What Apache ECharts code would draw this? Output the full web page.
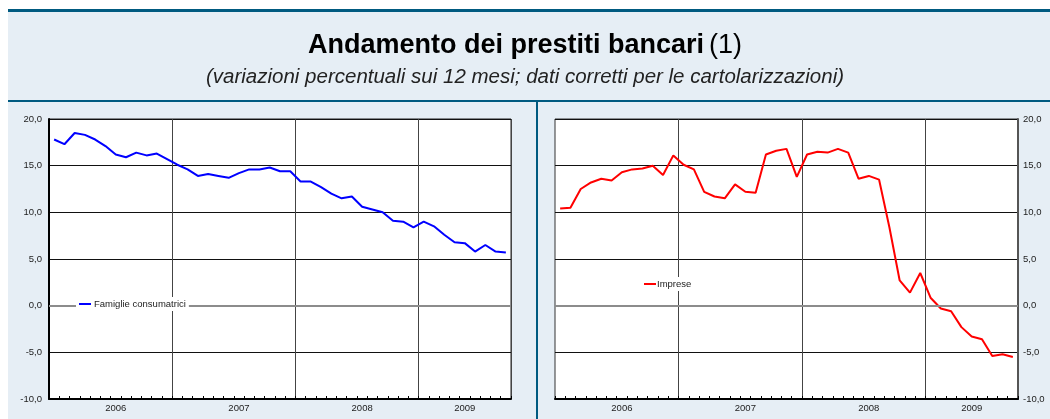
<!DOCTYPE html>
<html>
<head>
<meta charset="utf-8">
<script src="https://cdn.jsdelivr.net/npm/echarts@6/dist/echarts.min.js"></script>
<style>
  html, body { margin: 0; padding: 0; background: #fff; }
  #main { width: 1050px; height: 419px; }
</style>
</head>
<body>
<div id="main"></div>
<script>
// monthly data, Jan 2006 - Sep 2009
var years = ['2006', '2007', '2008', '2009'];
var monthsPerYear = [12, 12, 12, 9];
var yearLabelIndex = [6, 18, 30, 40];

var famiglie = [17.8, 17.3, 18.5, 18.3, 17.8, 17.1, 16.2, 15.9, 16.4, 16.1, 16.3, 15.7,
  15.1, 14.6, 13.9, 14.1, 13.9, 13.7, 14.2, 14.6, 14.6, 14.8, 14.4, 14.4,
  13.3, 13.3, 12.7, 12.0, 11.5, 11.7, 10.6, 10.3, 10.0, 9.1, 9.0, 8.4,
  9.0, 8.5, 7.6, 6.8, 6.7, 5.8, 6.5, 5.8, 5.7];

var imprese = [10.4, 10.5, 12.5, 13.2, 13.6, 13.4, 14.3, 14.6, 14.7, 15.0, 14.0, 16.1,
  15.1, 14.6, 12.2, 11.7, 11.5, 13.0, 12.2, 12.1, 16.2, 16.6, 16.8, 13.8,
  16.2, 16.5, 16.4, 16.8, 16.4, 13.6, 13.9, 13.5, 8.4, 2.7, 1.4, 3.5,
  0.85, -0.3, -0.6, -2.3, -3.3, -3.6, -5.4, -5.2, -5.5];

var months = [];
years.forEach(function (y, k) {
  for (var m = 1; m <= monthsPerYear[k]; m++) {
    months.push(y + '-' + (m < 10 ? '0' + m : m));
  }
});

var small = { fontFamily: 'Liberation Sans', fontSize: 9.5, color: '#222' };

function xAxisFor(gridIndex) {
  return {
    type: 'category',
    gridIndex: gridIndex,
    data: months,
    boundaryGap: true,
    axisLine: { onZero: false, lineStyle: { color: '#000', width: 2 } },
    axisTick: { show: true, interval: 0, inside: true, length: 3, lineStyle: { color: '#000', width: 1 } },
    axisLabel: {
      interval: function (i) { return yearLabelIndex.indexOf(i) >= 0; },
      formatter: function (v) { return v.substr(0, 4); },
      margin: 4,
      fontFamily: small.fontFamily, fontSize: small.fontSize, color: small.color
    },
    splitLine: {
      show: true,
      interval: function (i) { return i > 0 && i % 12 === 0; },
      lineStyle: { color: '#444', width: 1 }
    }
  };
}

function yAxisFor(gridIndex, pos) {
  return {
    type: 'value',
    gridIndex: gridIndex,
    position: pos,
    min: -10, max: 20, interval: 5,
    axisLine: { show: true, onZero: false, lineStyle: { color: pos === 'left' ? '#000' : '#555', width: 2 } },
    axisTick: { show: false },
    axisLabel: {
      margin: pos === 'left' ? 7 : 5,
      formatter: function (v) { return v.toFixed(1).replace('.', ','); },
      fontFamily: small.fontFamily, fontSize: small.fontSize, color: small.color
    },
    splitLine: { show: true, lineStyle: { color: '#111', width: 1 } }
  };
}

function zeroLine() {
  return {
    silent: true,
    symbol: 'none',
    label: { show: false },
    lineStyle: { color: '#8c8c8c', width: 2, type: 'solid' },
    data: [{ yAxis: 0 }]
  };
}

var chart = echarts.init(document.getElementById('main'));

chart.setOption({
  animation: false,
  graphic: [
    { type: 'rect', z: -10, shape: { x: 8, y: 12, width: 1042, height: 407 }, style: { fill: '#e6eef5' } },
    { type: 'rect', z: -9, shape: { x: 8, y: 9, width: 1042, height: 3 }, style: { fill: '#005a80' } },
    { type: 'rect', z: -9, shape: { x: 8, y: 100, width: 1042, height: 2 }, style: { fill: '#005a80' } },
    { type: 'rect', z: -9, shape: { x: 536, y: 100, width: 2, height: 319 }, style: { fill: '#005a80' } }
  ],
  title: [
    {
      text: '{b|Andamento dei prestiti bancari} {n|(1)}',
      left: 'center',
      top: 27,
      textStyle: {
        rich: {
          b: { fontFamily: 'Liberation Sans', fontWeight: 'bold', fontSize: 27, color: '#000' },
          n: { fontFamily: 'Liberation Sans', fontWeight: 'normal', fontSize: 27, color: '#000' }
        }
      }
    },
    {
      text: '(variazioni percentuali sui 12 mesi; dati corretti per le cartolarizzazioni)',
      left: 'center',
      top: 62,
      textStyle: { fontFamily: 'Liberation Sans', fontStyle: 'italic', fontWeight: 'normal', fontSize: 20.5, color: '#222' }
    }
  ],
  legend: [
    {
      data: ['Famiglie consumatrici'],
      left: 76, top: 297, z: 20,
      backgroundColor: '#fff',
      padding: [2, 3],
      icon: 'rect', itemWidth: 12, itemHeight: 2, itemGap: 0,
      textStyle: { fontFamily: small.fontFamily, fontSize: small.fontSize, color: '#222', padding: [0, 0, 0, -2] }
    },
    {
      data: ['Imprese'],
      left: 641, top: 277, z: 20,
      backgroundColor: '#fff',
      padding: [2, 3],
      icon: 'rect', itemWidth: 12, itemHeight: 2, itemGap: 0,
      textStyle: { fontFamily: small.fontFamily, fontSize: small.fontSize, color: '#222', padding: [0, 0, 0, -4] }
    }
  ],
  grid: [
    { left: 49, right: 539, top: 119, bottom: 20, show: true, backgroundColor: '#fff', borderColor: '#222', borderWidth: 1 },
    { left: 555, right: 32, top: 119, bottom: 20, show: true, backgroundColor: '#fff', borderColor: '#333', borderWidth: 1 }
  ],
  xAxis: [xAxisFor(0), xAxisFor(1)],
  yAxis: [yAxisFor(0, 'left'), yAxisFor(1, 'right')],
  series: [
    {
      name: 'Famiglie consumatrici',
      type: 'line',
      xAxisIndex: 0, yAxisIndex: 0,
      data: famiglie,
      symbol: 'none',
      lineStyle: { color: '#0000ff', width: 2 },
      itemStyle: { color: '#0000ff' },
      markLine: zeroLine()
    },
    {
      name: 'Imprese',
      type: 'line',
      xAxisIndex: 1, yAxisIndex: 1,
      data: imprese,
      symbol: 'none',
      lineStyle: { color: '#ff0000', width: 2 },
      itemStyle: { color: '#ff0000' },
      markLine: zeroLine()
    }
  ]
});
</script>
</body>
</html>
